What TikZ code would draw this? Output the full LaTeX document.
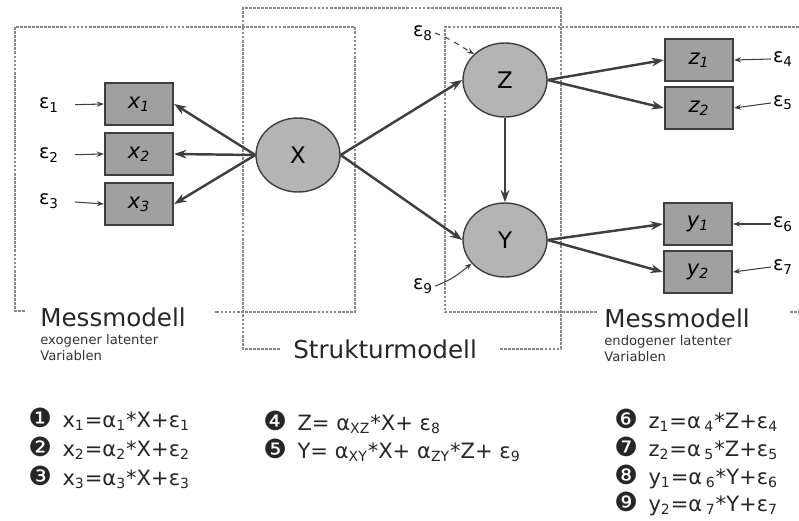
\documentclass[tikz,border=0pt]{standalone}
\usepackage{fontspec}
\setmainfont{DejaVu Sans}
\usetikzlibrary{positioning, arrows.meta, shapes.geometric}

\definecolor{boxfill}{HTML}{A0A0A0}
\definecolor{circfill}{HTML}{B4B4B4}
\definecolor{edgegray}{HTML}{3F3F3F}
\definecolor{framegray}{HTML}{8A8A8A}

\newcommand{\eqbullet}[1]{{\fontsize{15}{15}\selectfont #1}\hspace{6pt}}

\begin{document}
\begin{tikzpicture}[
    x=0.02cm, y=-0.02cm,
    >={Stealth[length=7pt, width=5pt]},
    latent/.style={draw=edgegray, line width=0.8pt, ellipse, fill=circfill, minimum width=1.68cm, minimum height=1.48cm, inner sep=0pt, font=\fontsize{13}{15}\selectfont},
    indicator/.style={draw=edgegray, line width=1.3pt, rectangle, fill=boxfill, minimum width=1.36cm, minimum height=0.84cm, inner sep=0pt, font=\fontsize{12}{14}\selectfont\itshape},
    errlbl/.style={inner sep=1pt, font=\fontsize{11}{13}\selectfont},
    frameline/.style={draw=framegray, line width=0.9pt, dash pattern=on 1.6pt off 0.7pt},
    bigtxt/.style={anchor=base west, inner sep=0pt, font=\fontsize{14}{16}\selectfont, text=black!85},
    smalltxt/.style={anchor=north west, inner sep=0pt, align=left, font=\fontsize{7.5}{9}\selectfont, text=black!80},
    eqtxt/.style={anchor=base west, inner sep=0pt, font=\fontsize{12}{14}\selectfont, text=black!85},
    patharrow/.style={->, line width=1.4pt, edgegray},
    errarrow/.style={-{Stealth[length=4pt, width=3pt]}, line width=0.6pt, edgegray}
]

\useasboundingbox (0,0) rectangle (799,521);

% Frames
\draw[frameline] (25,311) -- (15,311) -- (15,27) -- (355,27) -- (355,312) -- (215,312);
\draw[frameline] (280,349) -- (243,349) -- (243,8) -- (561,8) -- (561,349) -- (500,349);
\draw[frameline] (597,312) -- (445,312) -- (445,27) -- (799,27);
\draw[frameline] (790,312) -- (799,312);

% Latent variables
\node[latent] (X) at (298,155) {X};
\node[latent] (Z) at (505,80) {Z};
\node[latent] (Y) at (505,240) {Y};

% Exogenous indicators
\node[indicator] (x1) at (139,104) {x\textsubscript{1}};
\node[indicator] (x2) at (139,154) {x\textsubscript{2}};
\node[indicator] (x3) at (139,204) {x\textsubscript{3}};
\node[errlbl] (e1) at (49,105) {ε\textsubscript{1}};
\node[errlbl] (e2) at (49,155) {ε\textsubscript{2}};
\node[errlbl] (e3) at (49,201) {ε\textsubscript{3}};
\draw[errarrow, shorten <=8pt] (e1.east) -- (x1.west);
\draw[errarrow, shorten <=8pt] (e2.east) -- (x2.west);
\draw[errarrow, shorten <=8pt] (e3.east) -- (x3.west);
\draw[patharrow] (X.west) -- (x1.east);
\draw[patharrow] (X.west) -- (x2.east);
\draw[patharrow] (X.west) -- (x3.east);

% Structural paths
\draw[patharrow] (X.east) -- (Z.west);
\draw[patharrow] (X.east) -- (Y.west);
\draw[patharrow] (Z.south) -- (Y.north);
\node[errlbl] (e8) at (423,33) {ε\textsubscript{8}};
\node[errlbl] (e9) at (423,286) {ε\textsubscript{9}};
\draw[errarrow, dashed] (e8.east) to[out=-20, in=150] (Z.140);
\draw[errarrow] (e9.east) to[out=20, in=220] (Y.215);

% Endogenous indicators
\node[indicator] (z1) at (699,60) {z\textsubscript{1}};
\node[indicator] (z2) at (699,108) {z\textsubscript{2}};
\node[indicator] (y1) at (698,224) {y\textsubscript{1}};
\node[indicator] (y2) at (698,272) {y\textsubscript{2}};
\draw[patharrow] (Z.east) -- (z1.west);
\draw[patharrow] (Z.east) -- (z2.west);
\draw[patharrow] (Y.east) -- (y1.west);
\draw[patharrow] (Y.east) -- (y2.west);
\node[errlbl] (e4) at (783,59) {ε\textsubscript{4}};
\node[errlbl] (e5) at (783,103) {ε\textsubscript{5}};
\node[errlbl] (e6) at (783,224) {ε\textsubscript{6}};
\node[errlbl] (e7) at (783,267) {ε\textsubscript{7}};
\draw[errarrow] (e4.west) -- (z1.east);
\draw[errarrow] (e5.west) -- (z2.east);
\draw[errarrow] (e6.west) -- (y1.east);
\draw[errarrow] (e7.west) -- (y2.east);

% Frame captions
\node[bigtxt] (mmL) at (40,326) {Messmodell};
\node[smalltxt] (mmLsub) at (40,334) {exogener latenter\\Variablen};
\node[bigtxt] (smod) at (293,358) {Strukturmodell};
\node[bigtxt] (mmR) at (604,327) {Messmodell};
\node[smalltxt] (mmRsub) at (604,335) {endogener latenter\\Variablen};

% Equations
\node[eqtxt] (eq1) at (28,427) {\eqbullet{❶}x\textsubscript{1}=α\textsubscript{1}*X+ε\textsubscript{1}};
\node[eqtxt] (eq2) at (28,456) {\eqbullet{❷}x\textsubscript{2}=α\textsubscript{2}*X+ε\textsubscript{2}};
\node[eqtxt] (eq3) at (28,485) {\eqbullet{❸}x\textsubscript{3}=α\textsubscript{3}*X+ε\textsubscript{3}};
\node[eqtxt] (eq4) at (263,430) {\eqbullet{❹}Z= α\textsubscript{XZ}*X+ ε\textsubscript{8}};
\node[eqtxt] (eq5) at (263,458) {\eqbullet{❺}Y= α\textsubscript{XY}*X+ α\textsubscript{ZY}*Z+ ε\textsubscript{9}};
\node[eqtxt] (eq6) at (614,428) {\eqbullet{❻}z\textsubscript{1}=α\,\textsubscript{4}*Z+ε\textsubscript{4}};
\node[eqtxt] (eq7) at (614,456) {\eqbullet{❼}z\textsubscript{2}=α\,\textsubscript{5}*Z+ε\textsubscript{5}};
\node[eqtxt] (eq8) at (614,484) {\eqbullet{❽}y\textsubscript{1}=α\,\textsubscript{6}*Y+ε\textsubscript{6}};
\node[eqtxt] (eq9) at (614,511) {\eqbullet{❾}y\textsubscript{2}=α\,\textsubscript{7}*Y+ε\textsubscript{7}};

\end{tikzpicture}
\end{document}
